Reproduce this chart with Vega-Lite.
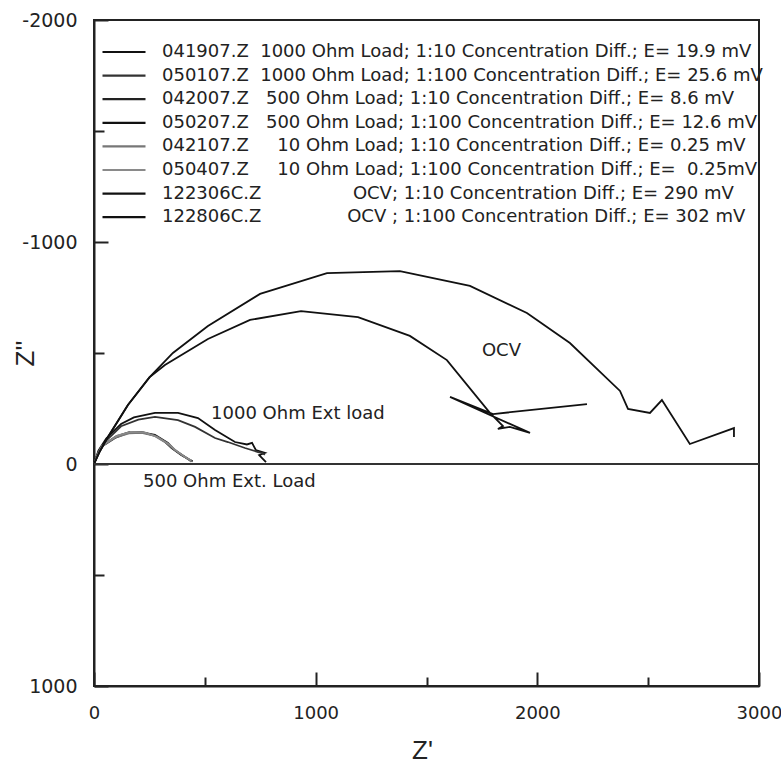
{
  "$schema": "https://vega.github.io/schema/vega-lite/v6.json",
  "width": 665,
  "height": 666,
  "autosize": {"type": "none"},
  "padding": {"left": 94, "top": 20, "right": 22, "bottom": 78},
  "config": {
    "view": {"stroke": "#222", "strokeWidth": 2},
    "axis": {"grid": false},
    "font": "DejaVu Sans"
  },
  "datasets": {
    "series": [
      {"id": "041907.Z", "label": "041907.Z\u00a0\u00a01000 Ohm Load; 1:10 Concentration Diff.; E= 19.9 mV"},
      {"id": "050107.Z", "label": "050107.Z\u00a0\u00a01000 Ohm Load; 1:100 Concentration Diff.; E= 25.6 mV"},
      {"id": "042007.Z", "label": "042007.Z\u00a0\u00a0\u00a0500 Ohm Load; 1:10 Concentration Diff.; E= 8.6 mV"},
      {"id": "050207.Z", "label": "050207.Z\u00a0\u00a0\u00a0500 Ohm Load; 1:100 Concentration Diff.; E= 12.6 mV"},
      {"id": "042107.Z", "label": "042107.Z\u00a0\u00a0\u00a0\u00a0\u00a010 Ohm Load; 1:10 Concentration Diff.; E= 0.25 mV"},
      {"id": "050407.Z", "label": "050407.Z\u00a0\u00a0\u00a0\u00a0\u00a010 Ohm Load; 1:100 Concentration Diff.; E=\u00a0 0.25mV"},
      {"id": "122306C.Z", "label": "122306C.Z\u00a0\u00a0\u00a0\u00a0\u00a0\u00a0\u00a0\u00a0\u00a0\u00a0\u00a0\u00a0\u00a0\u00a0\u00a0\u00a0OCV; 1:10 Concentration Diff.; E= 290 mV"},
      {"id": "122806C.Z", "label": "122806C.Z\u00a0\u00a0\u00a0\u00a0\u00a0\u00a0\u00a0\u00a0\u00a0\u00a0\u00a0\u00a0\u00a0\u00a0\u00a0OCV ; 1:100 Concentration Diff.; E= 302 mV"}
    ],
    "curves": [
      {"id": "041907.Z", "zr": 0, "zi": 0},
      {"id": "041907.Z", "zr": 20, "zi": -60},
      {"id": "041907.Z", "zr": 55, "zi": -115},
      {"id": "041907.Z", "zr": 122, "zi": -180},
      {"id": "041907.Z", "zr": 180, "zi": -210},
      {"id": "041907.Z", "zr": 275, "zi": -230},
      {"id": "041907.Z", "zr": 379, "zi": -230},
      {"id": "041907.Z", "zr": 469, "zi": -207},
      {"id": "041907.Z", "zr": 546, "zi": -153},
      {"id": "041907.Z", "zr": 636, "zi": -99},
      {"id": "041907.Z", "zr": 690, "zi": -88},
      {"id": "041907.Z", "zr": 713, "zi": -95},
      {"id": "041907.Z", "zr": 730, "zi": -63},
      {"id": "041907.Z", "zr": 771, "zi": -50},
      {"id": "041907.Z", "zr": 745, "zi": -40},
      {"id": "041907.Z", "zr": 776, "zi": -8},
      {"id": "050107.Z", "zr": 0, "zi": 0},
      {"id": "050107.Z", "zr": 22, "zi": -60},
      {"id": "050107.Z", "zr": 60, "zi": -110},
      {"id": "050107.Z", "zr": 122, "zi": -170},
      {"id": "050107.Z", "zr": 200, "zi": -200},
      {"id": "050107.Z", "zr": 275, "zi": -212},
      {"id": "050107.Z", "zr": 379, "zi": -198},
      {"id": "050107.Z", "zr": 456, "zi": -167},
      {"id": "050107.Z", "zr": 546, "zi": -117},
      {"id": "050107.Z", "zr": 604, "zi": -99},
      {"id": "050107.Z", "zr": 681, "zi": -72},
      {"id": "050107.Z", "zr": 740, "zi": -54},
      {"id": "050107.Z", "zr": 760, "zi": -50},
      {"id": "050107.Z", "zr": 771, "zi": -42},
      {"id": "042007.Z", "zr": 0, "zi": 0},
      {"id": "042007.Z", "zr": 15, "zi": -40},
      {"id": "042007.Z", "zr": 32, "zi": -77},
      {"id": "042007.Z", "zr": 95, "zi": -117},
      {"id": "042007.Z", "zr": 153, "zi": -140},
      {"id": "042007.Z", "zr": 212, "zi": -144},
      {"id": "042007.Z", "zr": 275, "zi": -131},
      {"id": "042007.Z", "zr": 334, "zi": -95},
      {"id": "042007.Z", "zr": 365, "zi": -63},
      {"id": "042007.Z", "zr": 410, "zi": -32},
      {"id": "042007.Z", "zr": 437, "zi": -14},
      {"id": "050207.Z", "zr": 0, "zi": 0},
      {"id": "050207.Z", "zr": 18, "zi": -45},
      {"id": "050207.Z", "zr": 40, "zi": -85},
      {"id": "050207.Z", "zr": 100, "zi": -125},
      {"id": "050207.Z", "zr": 160, "zi": -143},
      {"id": "050207.Z", "zr": 220, "zi": -142},
      {"id": "050207.Z", "zr": 280, "zi": -126},
      {"id": "050207.Z", "zr": 320, "zi": -100},
      {"id": "050207.Z", "zr": 350, "zi": -72},
      {"id": "050207.Z", "zr": 395, "zi": -40},
      {"id": "050207.Z", "zr": 430, "zi": -20},
      {"id": "050207.Z", "zr": 445, "zi": -12},
      {"id": "042107.Z", "zr": 0, "zi": 0},
      {"id": "042107.Z", "zr": 16, "zi": -42},
      {"id": "042107.Z", "zr": 35, "zi": -80},
      {"id": "042107.Z", "zr": 98, "zi": -120},
      {"id": "042107.Z", "zr": 158, "zi": -138},
      {"id": "042107.Z", "zr": 215, "zi": -140},
      {"id": "042107.Z", "zr": 270, "zi": -128},
      {"id": "042107.Z", "zr": 330, "zi": -92},
      {"id": "042107.Z", "zr": 360, "zi": -66},
      {"id": "042107.Z", "zr": 405, "zi": -36},
      {"id": "042107.Z", "zr": 432, "zi": -18},
      {"id": "042107.Z", "zr": 440, "zi": -10},
      {"id": "050407.Z", "zr": 0, "zi": 0},
      {"id": "050407.Z", "zr": 20, "zi": -48},
      {"id": "050407.Z", "zr": 45, "zi": -88},
      {"id": "050407.Z", "zr": 105, "zi": -128},
      {"id": "050407.Z", "zr": 165, "zi": -145},
      {"id": "050407.Z", "zr": 225, "zi": -143},
      {"id": "050407.Z", "zr": 285, "zi": -122},
      {"id": "050407.Z", "zr": 340, "zi": -88},
      {"id": "050407.Z", "zr": 372, "zi": -58},
      {"id": "050407.Z", "zr": 415, "zi": -28},
      {"id": "050407.Z", "zr": 440, "zi": -16},
      {"id": "122306C.Z", "zr": 0, "zi": 0},
      {"id": "122306C.Z", "zr": 25, "zi": -55},
      {"id": "122306C.Z", "zr": 63, "zi": -122},
      {"id": "122306C.Z", "zr": 153, "zi": -266},
      {"id": "122306C.Z", "zr": 250, "zi": -390},
      {"id": "122306C.Z", "zr": 356, "zi": -500},
      {"id": "122306C.Z", "zr": 514, "zi": -622},
      {"id": "122306C.Z", "zr": 749, "zi": -766},
      {"id": "122306C.Z", "zr": 1051, "zi": -860},
      {"id": "122306C.Z", "zr": 1380, "zi": -869},
      {"id": "122306C.Z", "zr": 1696, "zi": -802},
      {"id": "122306C.Z", "zr": 1953, "zi": -680},
      {"id": "122306C.Z", "zr": 2147, "zi": -545},
      {"id": "122306C.Z", "zr": 2373, "zi": -329},
      {"id": "122306C.Z", "zr": 2409, "zi": -248},
      {"id": "122306C.Z", "zr": 2508, "zi": -230},
      {"id": "122306C.Z", "zr": 2562, "zi": -288},
      {"id": "122306C.Z", "zr": 2688, "zi": -90},
      {"id": "122306C.Z", "zr": 2887, "zi": -162},
      {"id": "122306C.Z", "zr": 2887, "zi": -122},
      {"id": "122806C.Z", "zr": 0, "zi": 0},
      {"id": "122806C.Z", "zr": 25, "zi": -55},
      {"id": "122806C.Z", "zr": 63, "zi": -122},
      {"id": "122806C.Z", "zr": 153, "zi": -266},
      {"id": "122806C.Z", "zr": 250, "zi": -390},
      {"id": "122806C.Z", "zr": 320, "zi": -446},
      {"id": "122806C.Z", "zr": 514, "zi": -563},
      {"id": "122806C.Z", "zr": 704, "zi": -649},
      {"id": "122806C.Z", "zr": 934, "zi": -689},
      {"id": "122806C.Z", "zr": 1191, "zi": -662},
      {"id": "122806C.Z", "zr": 1425, "zi": -577},
      {"id": "122806C.Z", "zr": 1592, "zi": -468},
      {"id": "122806C.Z", "zr": 1786, "zi": -230},
      {"id": "122806C.Z", "zr": 1845, "zi": -171},
      {"id": "122806C.Z", "zr": 1822, "zi": -158},
      {"id": "122806C.Z", "zr": 1876, "zi": -167},
      {"id": "122806C.Z", "zr": 1967, "zi": -140},
      {"id": "122806C.Z", "zr": 1606, "zi": -302},
      {"id": "122806C.Z", "zr": 1800, "zi": -225},
      {"id": "122806C.Z", "zr": 2224, "zi": -270}
    ],
    "notes": [
      {"x": 528, "y": -203, "t": "1000 Ohm Ext load"},
      {"x": 221, "y": 104, "t": "500 Ohm Ext. Load"},
      {"x": 1750, "y": -486, "t": "OCV"}
    ]
  },
  "layer": [
    {
      "data": {"name": "curves"},
      "transform": [
        {"lookup": "id", "from": {"data": {"name": "series"}, "key": "id", "fields": ["label"]}}
      ],
      "mark": {"type": "line", "strokeWidth": 1.8},
      "encoding": {
        "x": {
          "field": "zr", "type": "quantitative",
          "scale": {"domain": [0, 3000], "nice": false, "zero": false},
          "axis": {
            "orient": "bottom",
            "values": [0, 1000, 2000, 3000],
            "tickSize": -14, "tickWidth": 2, "tickColor": "#222",
            "domainColor": "#222", "domainWidth": 2,
            "labelFont": "DejaVu Sans", "labelFontSize": 18, "labelColor": "#222",
            "labelPadding": 32, "labelFlush": false, "labelOverlap": false,
            "labelExpr": "datum.value + ''",
            "title": "Z'", "titleFont": "Liberation Sans", "titleFontSize": 26,
            "titleFontWeight": "normal", "titleColor": "#222",
            "titleX": 328, "titleY": 64, "titleAlign": "center", "titleBaseline": "middle"
          }
        },
        "y": {
          "field": "zi", "type": "quantitative",
          "scale": {"domain": [-2000, 1000], "reverse": true, "nice": false, "zero": false},
          "axis": {
            "orient": "left",
            "values": [-2000, -1000, 0, 1000],
            "tickSize": -14, "tickWidth": 2, "tickColor": "#222",
            "domainColor": "#222", "domainWidth": 2,
            "labelFont": "DejaVu Sans", "labelFontSize": 19, "labelColor": "#222",
            "labelPadding": 31, "labelFlush": false, "labelOverlap": false,
            "labelExpr": "datum.value + ''",
            "title": "Z''", "titleFont": "Liberation Sans", "titleFontSize": 26,
            "titleFontWeight": "normal", "titleColor": "#222",
            "titleX": -69, "titleY": 333, "titleAngle": 270,
            "titleAlign": "center", "titleBaseline": "middle"
          }
        },
        "color": {
          "field": "label", "type": "nominal", "sort": null,
          "scale": {"range": ["#111", "#333", "#222", "#111", "#777", "#8a8a8a", "#111", "#111"]},
          "legend": {
            "orient": "none", "legendX": 18.5, "legendY": 20.5,
            "title": null, "padding": 0,
            "symbolType": "M-2.15,0H2.15", "symbolSize": 400, "symbolStrokeWidth": 2.2,
            "labelFont": "DejaVu Sans", "labelFontSize": 18, "labelColor": "#222",
            "labelLimit": 0, "labelOffset": 26.5, "rowPadding": 2.6
          }
        },
        "order": {"value": null}
      }
    },
    {
      "data": {"values": [{}]},
      "mark": {"type": "rule", "color": "#333", "strokeWidth": 2},
      "encoding": {
        "y": {
          "datum": 0, "type": "quantitative",
          "axis": {
            "orient": "left", "values": [-1500, -500, 500],
            "tickSize": -10, "tickWidth": 2, "tickColor": "#222",
            "labels": false, "domain": false, "title": null
          }
        }
      }
    },
    {
      "data": {"name": "notes"},
      "mark": {"type": "text", "align": "left", "baseline": "alphabetic", "font": "DejaVu Sans", "fontSize": 18, "color": "#222"},
      "encoding": {
        "x": {
          "field": "x", "type": "quantitative",
          "axis": {
            "orient": "bottom", "values": [500, 1500, 2500],
            "tickSize": -9, "tickWidth": 2, "tickColor": "#222",
            "labels": false, "domain": false, "title": null
          }
        },
        "y": {"field": "y", "type": "quantitative", "axis": null},
        "text": {"field": "t"}
      }
    }
  ],
  "resolve": {"axis": {"x": "independent", "y": "independent"}}
}
